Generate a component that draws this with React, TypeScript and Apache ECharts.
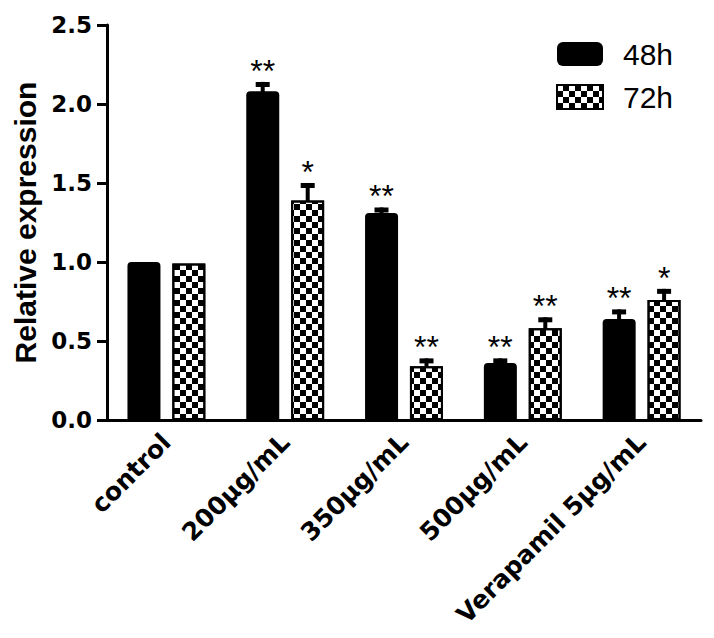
import React, { useEffect, useRef } from "react";
import * as echarts from "echarts";

const categories = ["control", "200µg/mL", "350µg/mL", "500µg/mL", "Verapamil 5µg/mL"];
const mean48 = [1.0, 2.08, 1.31, 0.36, 0.64];
const err48 = [0, 0.06, 0.035, 0.03, 0.06];
const mean72 = [0.99, 1.39, 0.34, 0.58, 0.76];
const err72 = [0, 0.11, 0.05, 0.07, 0.07];
const sig48 = ["", "**", "**", "**", "**"];
const sig72 = ["", "*", "**", "**", "*"];
const yTicks = [0, 0.5, 1.0, 1.5, 2.0, 2.5];

const FONT = "'Liberation Sans', Arial, sans-serif";
const TICK_FONT = "'DejaVu Sans', sans-serif";
const BAR_W = 33;
const OFFSET = 22.5;

export default function App() {
  const ref = useRef<HTMLDivElement>(null);
  useEffect(() => {
    if (!ref.current) return;
    const chart = echarts.init(ref.current, null, { renderer: "svg" });

    const errData: any[] = [];
    categories.forEach((_, i) => {
      errData.push({ value: [i, mean48[i], err48[i], 0], sig: sig48[i] });
      errData.push({ value: [i, mean72[i], err72[i], 1], sig: sig72[i] });
    });

    const checker = {
      symbol: "rect",
      symbolSize: 1,
      color: "#000",
      dashArrayX: [[6, 6], [0, 6, 6, 0]],
      dashArrayY: [6, 0],
      rotation: 0,
    };

    chart.setOption({
      animation: false,
      backgroundColor: "#fff",
      grid: { left: 107, right: 13, top: 25, bottom: 218, containLabel: false },
      legend: {
        orient: "vertical",
        left: 551,
        top: 34,
        itemWidth: 46,
        itemHeight: 24,
        itemGap: 13,
        selectedMode: false,
        textStyle: {
          fontFamily: FONT,
          fontSize: 30,
          lineHeight: 24,
          color: "#000",
          padding: [0, 0, 0, 15],
        },
        data: [
          { name: "48h", icon: "roundRect" },
          { name: "72h", icon: "rect" },
        ],
      },
      xAxis: {
        type: "category",
        data: categories,
        axisLine: { lineStyle: { color: "#000", width: 3 } },
        axisTick: { alignWithLabel: true, length: 8, lineStyle: { color: "#000", width: 3 } },
        axisLabel: {
          rotate: 45,
          margin: 18,
          interval: 0,
          color: "#000",
          fontFamily: TICK_FONT,
          fontWeight: "bold",
          fontSize: 25,
        },
      },
      yAxis: {
        type: "value",
        min: 0,
        max: 2.5,
        interval: 0.5,
        name: "Relative expression",
        nameLocation: "middle",
        nameGap: 64,
        nameTextStyle: { fontFamily: FONT, fontWeight: "bold", fontSize: 30, color: "#000" },
        axisLine: { show: true, lineStyle: { color: "#000", width: 3 } },
        axisTick: { show: true, length: 10, lineStyle: { color: "#000", width: 3 } },
        splitLine: { show: false },
        axisLabel: {
          margin: 15,
          color: "#000",
          fontFamily: TICK_FONT,
          fontWeight: "bold",
          fontSize: 23,
          formatter: (v: number) => (yTicks.includes(v) ? v.toFixed(1) : ""),
        },
      },
      series: [
        {
          name: "48h",
          type: "bar",
          data: mean48,
          barWidth: BAR_W,
          barGap: "36%",
          itemStyle: { color: "#000", borderRadius: [4, 4, 0, 0] },
        },
        {
          name: "72h",
          type: "bar",
          data: mean72,
          barWidth: BAR_W,
          barGap: "36%",
          itemStyle: { color: "#fff", borderColor: "#000", borderWidth: 2, decal: checker },
        },
        {
          type: "custom",
          z: 5,
          data: errData,
          renderItem: (params: any, api: any) => {
            const idx = params.dataIndex;
            const item = errData[idx];
            const [ci, m, e, s] = item.value;
            const base = api.coord([ci, m]);
            const cap = api.coord([ci, m + e]);
            const cx = base[0] + (s === 0 ? -OFFSET : OFFSET);
            const children: any[] = [];
            if (e > 0) {
              children.push({
                type: "rect",
                shape: { x: cx - 2, y: cap[1], width: 4, height: base[1] - cap[1] + 1 },
                style: { fill: "#000" },
              });
              children.push({
                type: "rect",
                shape: { x: cx - 7, y: cap[1], width: 14, height: 5 },
                style: { fill: "#000" },
              });
            }
            if (item.sig) {
              children.push({
                type: "text",
                x: cx,
                y: cap[1] + 5,
                style: {
                  text: item.sig,
                  fontFamily: FONT,
                  fontSize: 32,
                  fill: "#000",
                  align: "center",
                  verticalAlign: "bottom",
                },
              });
            }
            return { type: "group", children };
          },
        },
      ],
    });
    return () => chart.dispose();
  }, []);
  return <div ref={ref} style={{ width: 714, height: 638, position: "absolute", left: 0, top: 0 }} />;
}
